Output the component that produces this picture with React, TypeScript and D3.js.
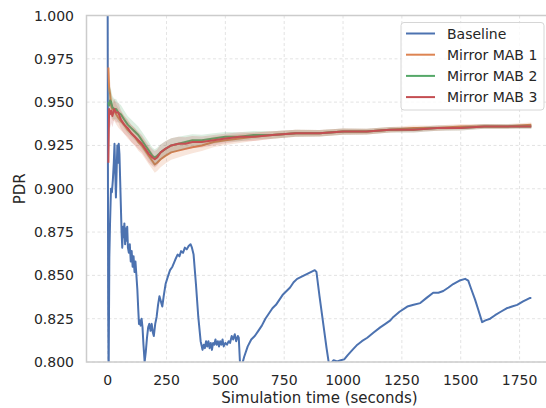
import React from "react";
import * as d3 from "d3";

const W = 546;
const H = 408;

const xTicks = [0, 250, 500, 750, 1000, 1250, 1500, 1750];
const yTicks = [0.8, 0.825, 0.85, 0.875, 0.9, 0.925, 0.95, 0.975, 1.0];

// baseline PDR: [time, pdr]
const baseline: [number, number][] = [
  [0, 1.0], [2, 0.835], [4, 0.79], [7, 0.86], [10, 0.88], [14, 0.9], [18, 0.898], [22, 0.905],
  [26, 0.915], [29, 0.926], [32, 0.91], [35, 0.895], [38, 0.91], [41, 0.925], [44, 0.915],
  [47, 0.926], [50, 0.92], [53, 0.905], [56, 0.89], [59, 0.875], [62, 0.866], [65, 0.878],
  [68, 0.872], [71, 0.88], [74, 0.868], [77, 0.877], [80, 0.87], [83, 0.878], [86, 0.866],
  [90, 0.863], [94, 0.868], [98, 0.858], [102, 0.864], [106, 0.855], [110, 0.861], [114, 0.852],
  [118, 0.858], [122, 0.85], [126, 0.842], [130, 0.83], [133, 0.822], [137, 0.824], [140, 0.821],
  [144, 0.825], [148, 0.82], [152, 0.81], [157, 0.8], [162, 0.806], [167, 0.814], [172, 0.82],
  [177, 0.822], [182, 0.818], [187, 0.822], [192, 0.817], [196, 0.815], [202, 0.822], [208, 0.826],
  [214, 0.833], [220, 0.838], [226, 0.835], [232, 0.832], [238, 0.838], [246, 0.845], [255, 0.849],
  [265, 0.853], [275, 0.855], [287, 0.859], [297, 0.862], [305, 0.861], [312, 0.864], [320, 0.863],
  [328, 0.866], [336, 0.865], [344, 0.867], [352, 0.868], [358, 0.866], [365, 0.862], [375, 0.845],
  [385, 0.826], [395, 0.812], [403, 0.807], [408, 0.81], [413, 0.808], [418, 0.812], [423, 0.809],
  [428, 0.812], [433, 0.808], [438, 0.811], [443, 0.807], [448, 0.811], [453, 0.81], [458, 0.813],
  [463, 0.81], [468, 0.812], [473, 0.809], [478, 0.812], [483, 0.81], [488, 0.813], [493, 0.809],
  [500, 0.811], [507, 0.81], [514, 0.812], [520, 0.811], [527, 0.815], [533, 0.813], [540, 0.816],
  [546, 0.812], [553, 0.815], [557, 0.814], [562, 0.8], [568, 0.797], [580, 0.803], [595, 0.809],
  [610, 0.813], [625, 0.815], [640, 0.818], [655, 0.821], [670, 0.825], [685, 0.828], [700, 0.831],
  [715, 0.833], [730, 0.836], [745, 0.839], [760, 0.841], [775, 0.843], [790, 0.846], [805, 0.848],
  [820, 0.849], [835, 0.85], [850, 0.851], [865, 0.852], [880, 0.853], [887, 0.852], [900, 0.838],
  [915, 0.823], [930, 0.808], [940, 0.799], [950, 0.7995], [960, 0.801], [975, 0.8003], [990, 0.801],
  [1005, 0.8015], [1020, 0.804], [1040, 0.807], [1061, 0.81], [1080, 0.812], [1103, 0.814],
  [1130, 0.817], [1158, 0.82], [1180, 0.822], [1201, 0.824], [1214, 0.826], [1240, 0.829],
  [1273, 0.832], [1300, 0.833], [1328, 0.834], [1355, 0.837], [1383, 0.84], [1405, 0.84],
  [1426, 0.841], [1448, 0.843], [1468, 0.845], [1495, 0.847], [1519, 0.848], [1532, 0.847],
  [1545, 0.842], [1561, 0.836], [1575, 0.83], [1591, 0.823], [1605, 0.824], [1625, 0.825],
  [1646, 0.827], [1670, 0.829], [1695, 0.831], [1718, 0.832], [1740, 0.833], [1765, 0.835],
  [1795, 0.837], [1800, 0.837],
];

// time grid shared by the three Mirror MAB runs
const mirrorTime = [
  3, 6, 10, 15, 20, 28, 36, 45, 56, 70, 85, 100, 115, 130, 145, 160, 175, 190, 200, 210, 225, 245,
  270, 300, 330, 360, 400, 450, 500, 560, 620, 700, 800, 900, 1000, 1100, 1200, 1300, 1400, 1500,
  1600, 1700, 1800,
];
const mab1 = [
  0.97, 0.958, 0.955, 0.948, 0.946, 0.945, 0.943, 0.941, 0.939, 0.937, 0.934, 0.932, 0.93, 0.927,
  0.925, 0.922, 0.919, 0.916, 0.914, 0.915, 0.917, 0.919, 0.921, 0.922, 0.923, 0.924, 0.925, 0.927,
  0.928, 0.929, 0.93, 0.931, 0.932, 0.932, 0.933, 0.933, 0.934, 0.935, 0.935, 0.936, 0.936, 0.936,
  0.937,
];
const mab2 = [
  0.95, 0.948, 0.951, 0.95, 0.947, 0.946, 0.946, 0.944, 0.943, 0.94, 0.937, 0.935, 0.933, 0.931,
  0.928, 0.925, 0.922, 0.919, 0.918, 0.919, 0.921, 0.923, 0.925, 0.926, 0.927, 0.928, 0.928, 0.929,
  0.93, 0.93, 0.931, 0.931, 0.932, 0.932, 0.933, 0.933, 0.934, 0.934, 0.935, 0.935, 0.936, 0.936,
  0.936,
];
const mab3 = [
  0.915, 0.946, 0.943, 0.945, 0.942, 0.946, 0.944, 0.944, 0.94, 0.937, 0.935, 0.932, 0.93, 0.928,
  0.926, 0.923, 0.92, 0.918, 0.917, 0.918, 0.921, 0.923, 0.925, 0.926, 0.926, 0.927, 0.927, 0.928,
  0.929, 0.93, 0.93, 0.931, 0.932, 0.932, 0.933, 0.933, 0.934, 0.934, 0.935, 0.935, 0.936, 0.936,
  0.936,
];
// half width of the shaded confidence band
const bandHalf = [
  0.012, 0.01, 0.008, 0.007, 0.0065, 0.006, 0.0058, 0.0056, 0.0054, 0.0052, 0.005, 0.005, 0.005,
  0.005, 0.005, 0.005, 0.005, 0.0048, 0.0048, 0.0047, 0.0046, 0.0044, 0.0042, 0.004, 0.0037,
  0.0035, 0.0032, 0.003, 0.0028, 0.0026, 0.0024, 0.0022, 0.002, 0.0019, 0.0018, 0.0017, 0.0016,
  0.0015, 0.0015, 0.0014, 0.0014, 0.0013, 0.0013,
];

const seriesNames = ["Baseline", "Mirror MAB 1", "Mirror MAB 2", "Mirror MAB 3"];
const colors = ["#4c72b0", "#dd8452", "#55a868", "#c44e52"];

export default function App() {
  const left = 86.5, right = 552.5, top = 15.5, bottom = 362;
  const x = d3.scaleLinear().domain([-90, 1890]).range([left, right]);
  const y = d3.scaleLinear().domain([0.8, 1.0]).range([bottom, top]);

  const line = d3.line<[number, number]>().x(d => x(d[0])).y(d => y(d[1]));

  const mabs = [mab1, mab2, mab3];
  const idx = mirrorTime.map((_, i) => i);
  const fmt = d3.format(".3f");
  const font = "DejaVu Sans, sans-serif";
  const txt = "#262626";

  return (
    <svg width={W} height={H} style={{ position: "absolute", left: 0, top: 0, background: "#fff" }} fontFamily={font}>
      <defs>
        <clipPath id="plot">
          <rect x={left} y={top} width={right - left} height={bottom - top} />
        </clipPath>
      </defs>
      {/* grid */}
      <g stroke="#dcdcdc" strokeWidth={0.8} strokeDasharray="3,2.5">
        {xTicks.map(t => <line key={"gx" + t} x1={x(t)} x2={x(t)} y1={top} y2={bottom} />)}
        {yTicks.map(t => <line key={"gy" + t} x1={left} x2={right} y1={y(t)} y2={y(t)} />)}
      </g>
      <g clipPath="url(#plot)">
        <path d={line(baseline) || ""} fill="none" stroke={colors[0]} strokeWidth={2} strokeLinejoin="round" />
        {mabs.map((m, k) => {
          const band = d3.area<number>()
            .x(i => x(mirrorTime[i]))
            .y0(i => y(m[i] - bandHalf[i]))
            .y1(i => y(m[i] + bandHalf[i]));
          const pts = idx.map(i => [mirrorTime[i], m[i]] as [number, number]);
          return (
            <g key={k}>
              <path d={band(idx) || ""} fill={colors[k + 1]} fillOpacity={0.2} stroke="none" />
              <path d={line(pts) || ""} fill="none" stroke={colors[k + 1]} strokeWidth={2} strokeLinejoin="round" />
            </g>
          );
        })}
      </g>
      {/* spines */}
      <rect x={left} y={top} width={right - left} height={bottom - top} fill="none" stroke="#cccccc" strokeWidth={1.5} />
      {/* ticks */}
      <g fontSize={14} fill={txt}>
        {xTicks.map(t => (
          <text key={"tx" + t} x={x(t)} y={385} textAnchor="middle">{t}</text>
        ))}
        {yTicks.map(t => (
          <text key={"ty" + t} x={74} y={y(t) + 5} textAnchor="end">{fmt(t)}</text>
        ))}
      </g>
      <text x={x(900)} y={403} textAnchor="middle" fontSize={15} fill={txt}>Simulation time (seconds)</text>
      <text transform={`translate(25,${(top + bottom) / 2}) rotate(-90)`} textAnchor="middle" fontSize={15} fill={txt}>PDR</text>
      {/* legend */}
      <g>
        <rect x={401} y={22.5} width={143} height={87.5} rx={3} fill="#fff" fillOpacity={0.8} stroke="#d6d6d6" strokeWidth={1} />
        {seriesNames.map((n, i) => {
          const cy = 33.5 + i * 21.2;
          return (
            <g key={n}>
              <line x1={406} x2={435} y1={cy} y2={cy} stroke={colors[i]} strokeWidth={2} />
              <text x={447} y={cy + 5} fontSize={14} fill={txt}>{n}</text>
            </g>
          );
        })}
      </g>
    </svg>
  );
}
